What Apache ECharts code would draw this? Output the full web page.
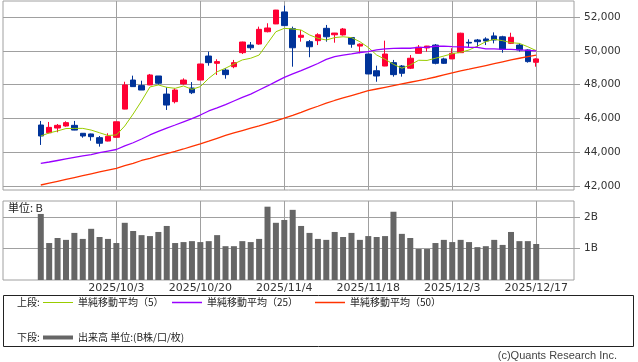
<!DOCTYPE html>
<html><head><meta charset="utf-8">
<script src="https://cdn.jsdelivr.net/npm/echarts@6/dist/echarts.min.js"></script>
<style>html,body{margin:0;padding:0;background:#fff;}#c{width:638px;height:362px;}</style>
</head><body><div id="c"></div>
<script>
const dates = ['2025/9/19','2025/9/22','2025/9/24','2025/9/25','2025/9/26','2025/9/29','2025/9/30','2025/10/1','2025/10/2','2025/10/3','2025/10/6','2025/10/7','2025/10/8','2025/10/9','2025/10/10','2025/10/14','2025/10/15','2025/10/16','2025/10/17','2025/10/20','2025/10/21','2025/10/22','2025/10/23','2025/10/24','2025/10/27','2025/10/28','2025/10/29','2025/10/30','2025/10/31','2025/11/4','2025/11/5','2025/11/6','2025/11/7','2025/11/10','2025/11/11','2025/11/12','2025/11/13','2025/11/14','2025/11/17','2025/11/18','2025/11/19','2025/11/20','2025/11/21','2025/11/25','2025/11/26','2025/11/27','2025/11/28','2025/12/1','2025/12/2','2025/12/3','2025/12/4','2025/12/5','2025/12/8','2025/12/9','2025/12/10','2025/12/11','2025/12/12','2025/12/15','2025/12/16','2025/12/17'];
const opens = [45610,45150,45430,45550,45590,45120,45080,44860,44660,44880, 46550,48270,47940,47980,48510,47440,46990,48040,47800,48270, 49690,49260,48860,49060,49890,50340,50400,51130,51590,52300, 51310,50800,50540,50600,51330,50950,50940,50780,50280,49810, 48820,49100,49300,49100,48970,49850,50170,50340,49520,49520, 49890,50500,50640,50700,50880,50830,50440,50340,50050,49320];
const closes = [44960,45470,45590,45750,45310,44960,44920,44530,44940,45800, 47980,47880,47680,48570,48080,46790,47680,48270,47520,49220, 49300,49360,48590,49300,50520,50180,51270,51350,52410,51490, 50180,50920,50240,50950,50830,51050,51290,50390,50390,48630, 48510,49810,48590,48670,49560,50210,50280,49260,49260,49850, 51040,50460,50540,50580,50640,50090,50800,50050,49360,49520];
const lows = [44430,45120,45180,45510,45300,44860,44680,44330,44640,44870, 46540,47860,47680,47970,47980,46500,46890,47990,47440,48260, 49120,48570,48350,48970,49810,50050,50360,51090,51580,51480, 49060,50540,49620,50340,50540,50480,50900,50180,49850,48620, 48170,49090,48470,48470,48920,49840,49950,49200,49220,49510, 49880,50210,50240,50340,50440,49890,50400,49950,49300,49060];
const highs = [45850,45790,45670,45830,45850,45130,45100,44960,45120,45810, 48170,48530,48230,48630,48510,47840,47780,48370,48150,49230, 49950,49500,48970,49460,50540,50520,51430,51630,52420,52670, 51430,51230,50640,51040,51530,51060,51350,50800,50440,49830, 49120,50600,49460,49160,49750,50340,50290,50400,49590,50150, 51070,50680,50700,50800,51090,50890,51070,50440,50090,49560];
const ma5 = [44960,45140,45260,45400,45410,45410,45310,45150,44990,45020, 45550,46260,47030,47860,47980,47840,47780,47920,47720,47880, 48370,48760,48970,49220,49460,49560,49750,50440,51130,51330, 51290,51230,50940,50740,50640,50780,50830,50780,50540,50200, 49750,49500,49200,48970,49160,49440,49430,49560,49690,49830, 49910,50050,50280,50540,50680,50600,50480,50440,50240,50010];
const ma25 = [43340,43420,43510,43600,43690,43780,43860,43980,44070,44160, 44370,44560,44780,45020,45230,45430,45610,45800,45990,46200, 46440,46620,46820,47030,47240,47440,47680,47920,48180,48430, 48630,48830,49040,49250,49490,49660,49750,49820,49900,49950, 50050,50110,50140,50150,50150,50200,50210,50270,50280,50250, 50230,50210,50200,50120,50110,50090,50080,50050,50020,49990];
const ma50 = [42060,42170,42280,42390,42500,42610,42720,42830,42940,43050, 43200,43340,43510,43640,43780,43920,44050,44190,44340,44490, 44650,44820,44990,45140,45280,45420,45560,45710,45860,46010, 46180,46360,46550,46720,46900,47060,47210,47350,47490,47640, 47740,47840,47940,48040,48140,48240,48340,48450,48580,48700, 48810,48910,49020,49130,49240,49350,49460,49560,49660,49750];
const volumeB = [2.09,1.17,1.33,1.27,1.49,1.30,1.62,1.36,1.30,1.17, 1.81,1.55,1.42,1.39,1.52,1.71,1.17,1.20,1.23,1.20, 1.23,1.42,1.07,1.07,1.23,1.20,1.30,2.32,1.81,1.90, 2.22,1.71,1.49,1.30,1.27,1.52,1.36,1.49,1.27,1.39, 1.36,1.39,2.16,1.46,1.33,0.98,0.98,1.17,1.27,1.20, 1.27,1.20,1.04,1.07,1.27,1.11,1.52,1.23,1.23,1.14];
const xTickLabels = ['2025/10/3','2025/10/20','2025/11/4','2025/11/18','2025/12/3','2025/12/17'];
const priceTicks = [42000,44000,46000,48000,50000,52000];
const volumeTicks = [1,2];
const names = ['単純移動平均（5）','単純移動平均（25）','単純移動平均（50）','出来高 単位:(B株/口/枚)'];

const padL = 4, padR = 4;
const blanks = n => Array(n).fill('');
const dashes = n => Array(n).fill('-');
const cats = blanks(padL).concat(dates, blanks(padR));
const wrap = arr => dashes(padL).concat(arr, dashes(padR));
const candles = wrap(dates.map((d, i) => [opens[i], closes[i], lows[i], highs[i]]));

const GRID_C = '#a0a0a0';
const LATIN = 'DejaVu Sans';
const JP = 'Noto Sans CJK JP';
const vlines = {
  silent: true, symbol: 'none', z: 1, animation: false,
  label: { show: false },
  lineStyle: { color: GRID_C, width: 1, type: 'solid' },
  emphasis: { disabled: true },
  data: xTickLabels.map(d => ({ xAxis: d }))
};

const chart = echarts.init(document.getElementById('c'), null, { renderer: 'canvas' });
const legendBase = {
  orient: 'horizontal', selectedMode: false, itemWidth: 30, itemHeight: 1, padding: 0, icon: 'rect',
  textStyle: { fontSize: 10, fontFamily: JP, color: '#222' }
};
chart.setOption({
  animation: false,
  backgroundColor: '#fff',
  grid: [
    { left: 3, top: 1, width: 571, height: 189, show: true, borderColor: GRID_C, borderWidth: 1, backgroundColor: '#fff' },
    { left: 3, top: 201, width: 571, height: 79, show: true, borderColor: GRID_C, borderWidth: 1, backgroundColor: '#fff' }
  ],
  xAxis: [
    { type: 'category', gridIndex: 0, data: cats, boundaryGap: true,
      axisLine: { show: false }, axisTick: { show: false }, axisLabel: { show: false }, splitLine: { show: false } },
    { type: 'category', gridIndex: 1, data: cats, boundaryGap: true,
      axisLine: { show: false }, axisTick: { show: false }, splitLine: { show: false },
      axisLabel: { show: true, interval: (i, v) => xTickLabels.includes(v), fontSize: 11, fontFamily: LATIN, color: '#333', margin: 3 } }
  ],
  yAxis: [
    { type: 'value', gridIndex: 0, position: 'right', min: 41764, max: 52947, scale: true,
      axisLine: { show: false },
      axisTick: { show: true, customValues: priceTicks, length: 6, lineStyle: { color: GRID_C } },
      axisLabel: { customValues: priceTicks, formatter: v => v.toLocaleString('en-US'), fontSize: 10.5, fontFamily: LATIN, color: '#333', margin: 10 },
      splitLine: { show: true, lineStyle: { color: GRID_C, width: 1 } } },
    { type: 'value', gridIndex: 1, position: 'right', min: 0, max: 2.5,
      axisLine: { show: false },
      axisTick: { show: true, customValues: volumeTicks, length: 6, lineStyle: { color: GRID_C } },
      axisLabel: { customValues: volumeTicks, formatter: v => v + 'B', fontSize: 10.5, fontFamily: LATIN, color: '#333', margin: 10 },
      splitLine: { show: true, lineStyle: { color: GRID_C, width: 1 } } }
  ],
  legend: [
    Object.assign({}, legendBase, { left: 43, top: 297.5, data: [names[0]] }),
    Object.assign({}, legendBase, { left: 172, top: 297.5, itemHeight: 1.5, data: [names[1]] }),
    Object.assign({}, legendBase, { left: 315, top: 297.5, itemHeight: 1.5, data: [names[2]] }),
    Object.assign({}, legendBase, { left: 43, top: 332.5, itemHeight: 4, data: [names[3]] })
  ],
  series: [
    { type: 'candlestick', name: 'price', xAxisIndex: 0, yAxisIndex: 0, data: candles, barWidth: 6, z: 2,
      itemStyle: { color: '#ff0033', color0: '#003399', borderColor: '#ff0033', borderColor0: '#003399', borderWidth: 1 },
      markLine: vlines },
    { type: 'line', name: names[0], xAxisIndex: 0, yAxisIndex: 0, data: wrap(ma5), symbol: 'none', showSymbol: false, z: 3,
      lineStyle: { color: '#99cc00', width: 1 }, itemStyle: { color: '#99cc00' } },
    { type: 'line', name: names[1], xAxisIndex: 0, yAxisIndex: 0, data: wrap(ma25), symbol: 'none', showSymbol: false, z: 3,
      lineStyle: { color: '#9900ff', width: 1.3 }, itemStyle: { color: '#9900ff' } },
    { type: 'line', name: names[2], xAxisIndex: 0, yAxisIndex: 0, data: wrap(ma50), symbol: 'none', showSymbol: false, z: 3,
      lineStyle: { color: '#ff3300', width: 1.3 }, itemStyle: { color: '#ff3300' } },
    { type: 'bar', name: names[3], xAxisIndex: 1, yAxisIndex: 1, data: wrap(volumeB), barWidth: 6, z: 2,
      itemStyle: { color: '#666666' }, markLine: vlines }
  ],
  graphic: [
    { type: 'rect', shape: { x: 3.5, y: 295.5, width: 630, height: 51 }, style: { fill: 'none', stroke: '#222', lineWidth: 1 }, z: -1, silent: true },
    { type: 'text', left: 17, top: 297.5, style: { text: '上段:', fontSize: 10, fontFamily: JP, fill: '#222' } },
    { type: 'text', left: 17, top: 332.5, style: { text: '下段:', fontSize: 10, fontFamily: JP, fill: '#222' } },
    { type: 'text', left: 8, top: 202, style: { text: '単位: B', fontSize: 11, fontFamily: JP, fill: '#222' } },
    { type: 'text', right: 21, top: 350, style: { text: '(c)Quants Research Inc.', fontSize: 11, fontFamily: 'Liberation Sans', fill: '#444' } }
  ]
});
</script></body></html>
